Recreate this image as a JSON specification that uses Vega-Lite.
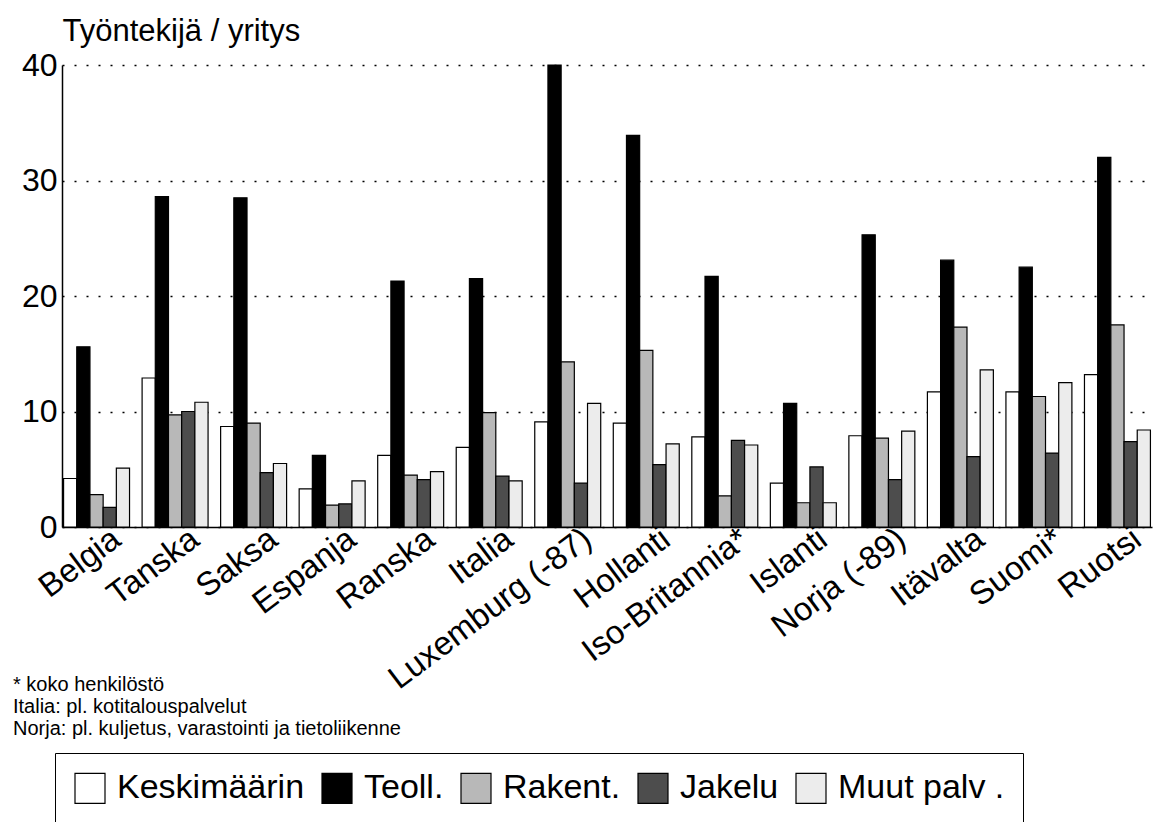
{
  "$schema": "https://vega.github.io/schema/vega-lite/v6.json",
  "autosize": {"type": "none"},
  "width": 1090,
  "height": 462,
  "padding": {"left": 62, "top": 65, "right": 4, "bottom": 295},
  "background": "white",
  "config": {
    "font": "Liberation Sans",
    "view": {"stroke": null}
  },
  "title": {
    "text": ["* koko henkilöstö", "Italia: pl. kotitalouspalvelut", "Norja: pl. kuljetus, varastointi ja tietoliikenne"],
    "orient": "bottom",
    "anchor": "start",
    "frame": "group",
    "dx": -49,
    "dy": -150,
    "offset": 0,
    "fontSize": 20,
    "fontWeight": "normal",
    "lineHeight": 22,
    "baseline": "top",
    "color": "black"
  },
  "data": {
    "values": [
      {"maa": "Belgia", "sarja": "Keskimäärin", "arvo": 4.2},
      {"maa": "Belgia", "sarja": "Teoll.", "arvo": 15.6},
      {"maa": "Belgia", "sarja": "Rakent.", "arvo": 2.8},
      {"maa": "Belgia", "sarja": "Jakelu", "arvo": 1.7},
      {"maa": "Belgia", "sarja": "Muut palv .", "arvo": 5.1},
      {"maa": "Tanska", "sarja": "Keskimäärin", "arvo": 12.9},
      {"maa": "Tanska", "sarja": "Teoll.", "arvo": 28.6},
      {"maa": "Tanska", "sarja": "Rakent.", "arvo": 9.7},
      {"maa": "Tanska", "sarja": "Jakelu", "arvo": 10.0},
      {"maa": "Tanska", "sarja": "Muut palv .", "arvo": 10.8},
      {"maa": "Saksa", "sarja": "Keskimäärin", "arvo": 8.7},
      {"maa": "Saksa", "sarja": "Teoll.", "arvo": 28.5},
      {"maa": "Saksa", "sarja": "Rakent.", "arvo": 9.0},
      {"maa": "Saksa", "sarja": "Jakelu", "arvo": 4.7},
      {"maa": "Saksa", "sarja": "Muut palv .", "arvo": 5.5},
      {"maa": "Espanja", "sarja": "Keskimäärin", "arvo": 3.3},
      {"maa": "Espanja", "sarja": "Teoll.", "arvo": 6.2},
      {"maa": "Espanja", "sarja": "Rakent.", "arvo": 1.9},
      {"maa": "Espanja", "sarja": "Jakelu", "arvo": 2.0},
      {"maa": "Espanja", "sarja": "Muut palv .", "arvo": 4.0},
      {"maa": "Ranska", "sarja": "Keskimäärin", "arvo": 6.2},
      {"maa": "Ranska", "sarja": "Teoll.", "arvo": 21.3},
      {"maa": "Ranska", "sarja": "Rakent.", "arvo": 4.5},
      {"maa": "Ranska", "sarja": "Jakelu", "arvo": 4.1},
      {"maa": "Ranska", "sarja": "Muut palv .", "arvo": 4.8},
      {"maa": "Italia", "sarja": "Keskimäärin", "arvo": 6.9},
      {"maa": "Italia", "sarja": "Teoll.", "arvo": 21.5},
      {"maa": "Italia", "sarja": "Rakent.", "arvo": 9.9},
      {"maa": "Italia", "sarja": "Jakelu", "arvo": 4.4},
      {"maa": "Italia", "sarja": "Muut palv .", "arvo": 4.0},
      {"maa": "Luxemburg (-87)", "sarja": "Keskimäärin", "arvo": 9.1},
      {"maa": "Luxemburg (-87)", "sarja": "Teoll.", "arvo": 40.0},
      {"maa": "Luxemburg (-87)", "sarja": "Rakent.", "arvo": 14.3},
      {"maa": "Luxemburg (-87)", "sarja": "Jakelu", "arvo": 3.8},
      {"maa": "Luxemburg (-87)", "sarja": "Muut palv .", "arvo": 10.7},
      {"maa": "Hollanti", "sarja": "Keskimäärin", "arvo": 9.0},
      {"maa": "Hollanti", "sarja": "Teoll.", "arvo": 33.9},
      {"maa": "Hollanti", "sarja": "Rakent.", "arvo": 15.3},
      {"maa": "Hollanti", "sarja": "Jakelu", "arvo": 5.4},
      {"maa": "Hollanti", "sarja": "Muut palv .", "arvo": 7.2},
      {"maa": "Iso-Britannia*", "sarja": "Keskimäärin", "arvo": 7.8},
      {"maa": "Iso-Britannia*", "sarja": "Teoll.", "arvo": 21.7},
      {"maa": "Iso-Britannia*", "sarja": "Rakent.", "arvo": 2.7},
      {"maa": "Iso-Britannia*", "sarja": "Jakelu", "arvo": 7.5},
      {"maa": "Iso-Britannia*", "sarja": "Muut palv .", "arvo": 7.1},
      {"maa": "Islanti", "sarja": "Keskimäärin", "arvo": 3.8},
      {"maa": "Islanti", "sarja": "Teoll.", "arvo": 10.7},
      {"maa": "Islanti", "sarja": "Rakent.", "arvo": 2.1},
      {"maa": "Islanti", "sarja": "Jakelu", "arvo": 5.2},
      {"maa": "Islanti", "sarja": "Muut palv .", "arvo": 2.1},
      {"maa": "Norja (-89)", "sarja": "Keskimäärin", "arvo": 7.9},
      {"maa": "Norja (-89)", "sarja": "Teoll.", "arvo": 25.3},
      {"maa": "Norja (-89)", "sarja": "Rakent.", "arvo": 7.7},
      {"maa": "Norja (-89)", "sarja": "Jakelu", "arvo": 4.1},
      {"maa": "Norja (-89)", "sarja": "Muut palv .", "arvo": 8.3},
      {"maa": "Itävalta", "sarja": "Keskimäärin", "arvo": 11.7},
      {"maa": "Itävalta", "sarja": "Teoll.", "arvo": 23.1},
      {"maa": "Itävalta", "sarja": "Rakent.", "arvo": 17.3},
      {"maa": "Itävalta", "sarja": "Jakelu", "arvo": 6.1},
      {"maa": "Itävalta", "sarja": "Muut palv .", "arvo": 13.6},
      {"maa": "Suomi*", "sarja": "Keskimäärin", "arvo": 11.7},
      {"maa": "Suomi*", "sarja": "Teoll.", "arvo": 22.5},
      {"maa": "Suomi*", "sarja": "Rakent.", "arvo": 11.3},
      {"maa": "Suomi*", "sarja": "Jakelu", "arvo": 6.4},
      {"maa": "Suomi*", "sarja": "Muut palv .", "arvo": 12.5},
      {"maa": "Ruotsi", "sarja": "Keskimäärin", "arvo": 13.2},
      {"maa": "Ruotsi", "sarja": "Teoll.", "arvo": 32.0},
      {"maa": "Ruotsi", "sarja": "Rakent.", "arvo": 17.5},
      {"maa": "Ruotsi", "sarja": "Jakelu", "arvo": 7.4},
      {"maa": "Ruotsi", "sarja": "Muut palv .", "arvo": 8.4}
    ]
  },
  "mark": {"type": "bar", "stroke": "black", "strokeWidth": 1.2},
  "encoding": {
    "x": {
      "field": "maa",
      "type": "nominal",
      "sort": null,
      "title": null,
      "scale": {"paddingInner": 0.16, "paddingOuter": 0.02},
      "axis": {
        "domain": true,
        "domainColor": "black",
        "domainWidth": 1.5,
        "ticks": false,
        "labelAngle": -37,
        "labelAlign": "right",
        "labelBaseline": "middle",
        "labelPadding": 8,
        "labelOffset": 20,
        "labelFontSize": 33,
        "labelColor": "black",
        "labelOverlap": false,
        "labelLimit": 400
      }
    },
    "xOffset": {
      "field": "sarja",
      "type": "nominal",
      "sort": ["Keskimäärin", "Teoll.", "Rakent.", "Jakelu", "Muut palv ."],
      "scale": {"paddingInner": 0, "paddingOuter": 0}
    },
    "y": {
      "field": "arvo",
      "type": "quantitative",
      "scale": {"domain": [0, 40], "nice": false},
      "axis": {
        "values": [0, 10, 20, 30, 40],
        "title": "Työntekijä / yritys",
        "titleAngle": 0,
        "titleAlign": "left",
        "titleBaseline": "alphabetic",
        "titleX": 0,
        "titleY": -25,
        "titleFontSize": 31,
        "titleFontWeight": "normal",
        "titleColor": "black",
        "domain": true,
        "domainColor": "black",
        "domainWidth": 1.5,
        "ticks": false,
        "labelFontSize": 32,
        "labelPadding": 5,
        "labelColor": "black",
        "grid": true,
        "gridColor": "black",
        "gridDash": [2, 10],
        "gridWidth": 1.5
      }
    },
    "color": {
      "field": "sarja",
      "type": "nominal",
      "sort": ["Keskimäärin", "Teoll.", "Rakent.", "Jakelu", "Muut palv ."],
      "scale": {
        "domain": ["Keskimäärin", "Teoll.", "Rakent.", "Jakelu", "Muut palv ."],
        "range": ["#ffffff", "#000000", "#b8b8b8", "#4d4d4d", "#ececec"]
      },
      "legend": {
        "title": null,
        "orient": "none",
        "legendX": -7,
        "legendY": 688,
        "direction": "horizontal",
        "columns": 5,
        "columnPadding": 14,
        "labelOffset": 10,
        "labelFontSize": 34,
        "labelColor": "black",
        "labelLimit": 400,
        "symbolType": "square",
        "symbolSize": 900,
        "symbolStrokeColor": "black",
        "symbolStrokeWidth": 1.2,
        "strokeColor": "black",
        "fillColor": "white",
        "padding": 18
      }
    }
  }
}
